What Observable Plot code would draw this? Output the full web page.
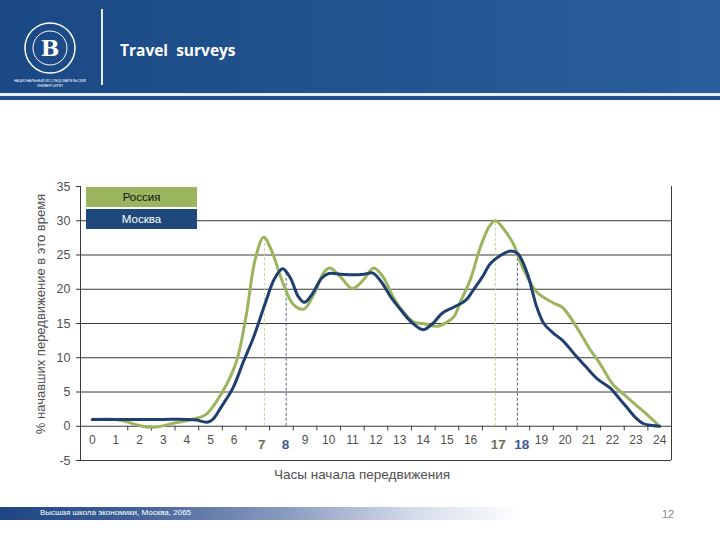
<!DOCTYPE html>
<html>
<head>
<meta charset="utf-8">
<script src="https://cdn.jsdelivr.net/npm/d3@7"></script>
<script src="https://cdn.jsdelivr.net/npm/@observablehq/plot@0.6"></script>
<style>
  html, body { margin: 0; padding: 0; background: #fff; }
  #page { position: relative; width: 720px; height: 540px; overflow: hidden; background: #fff; font-family: "Liberation Sans", Arial, sans-serif; }
  #header { position: absolute; left: 0; top: 0; width: 720px; height: 93px;
    background: linear-gradient(to right, #1b4986 0%, #21548f 50%, #2a5e9c 100%); }
  #hline { position: absolute; left: 0; top: 93px; width: 720px; height: 3px; background: #e8eef6; }
  #hstrip { position: absolute; left: 0; top: 96px; width: 720px; height: 4px; background: #1f4f8c; }
  #vsep { position: absolute; left: 101px; top: 9px; width: 2px; height: 76px; background: #e6edf7; }
  #title { position: absolute; left: 120px; top: 39px; color: #fff; font-family: "Open Sans", sans-serif; font-weight: 700; font-size: 15.5px; white-space: pre; }
  #logo { position: absolute; left: 14px; top: 8px; }
  #chart { position: absolute; left: 0; top: 170px; }
  .legend { position: absolute; left: 86px; width: 111px; height: 20px; font-size: 11.5px; text-align: center; line-height: 20px; }
  #ytitle { position: absolute; left: 40px; top: 314px; transform: translate(-50%, -50%) rotate(-90deg); white-space: nowrap; font-size: 13px; color: #505050; }
  #xtitle { position: absolute; left: 362px; top: 474px; transform: translate(-50%, -50%); white-space: nowrap; font-size: 13.5px; color: #505050; }
  #footer { position: absolute; left: 0; top: 507px; width: 520px; height: 13px;
    background: linear-gradient(to right, #1d4682 0%, #3f5f98 25%, #8a9bc0 55%, #d5dceb 80%, rgba(255,255,255,0) 100%); }
  #ftext { position: absolute; left: 40px; top: 508px; font-size: 8px; color: #fff; white-space: nowrap; }
  #pagenum { position: absolute; left: 662px; top: 508px; font-size: 11px; color: #888; }
</style>
</head>
<body>
<div id="page">
  <div id="header"></div>
  <div id="hline"></div>
  <div id="hstrip"></div>
  <svg id="logo" width="72" height="82" viewBox="0 0 72 82">
    <circle cx="36" cy="40" r="25" fill="none" stroke="#fff" stroke-width="1.5"/>
    <circle cx="36" cy="40" r="17" fill="none" stroke="#fff" stroke-width="1"/>
    <text x="36" y="48" text-anchor="middle" fill="#fff" font-family="DejaVu Serif, serif" font-weight="700" font-size="22">В</text>
    <text x="36" y="74" text-anchor="middle" fill="#fff" font-size="3.6" font-family="Liberation Sans, sans-serif">НАЦИОНАЛЬНЫЙ ИССЛЕДОВАТЕЛЬСКИЙ</text>
    <text x="36" y="79" text-anchor="middle" fill="#fff" font-size="3.6" font-family="Liberation Sans, sans-serif">УНИВЕРСИТЕТ</text>
  </svg>
  <div id="vsep"></div>
  <div id="title">Travel  surveys</div>
  <div id="chart"></div>
  <div class="legend" style="top:187px; background:#9bb55e; color:#111;">Россия</div>
  <div class="legend" style="top:209px; background:#1f497d; color:#fff;">Москва</div>
  <div id="ytitle">% начавших передвижение в это время</div>
  <div id="xtitle">Часы начала передвижения</div>
  <div id="footer"></div>
  <div id="ftext">Высшая школа экономики, Москва, 2065</div>
  <div id="pagenum">12</div>
</div>
<script>
// ---- data ----
const russiaHours  = [0, 1, 1.5, 2, 2.6, 3.4, 4.3, 4.8, 5.5, 6.1, 6.5, 6.9, 7.25, 7.6, 8.0, 8.5, 8.95, 9.4, 9.8, 10.05, 10.5, 11.0, 11.5, 11.9, 12.3, 12.7, 13.0, 13.6, 14.0, 14.6, 15.0, 15.3, 15.6, 16.0, 16.4, 16.8, 17.05, 17.4, 17.8, 18.2, 18.8, 19.5, 19.9, 20.5, 21.0, 21.5, 22.0, 22.5, 23.0, 23.5, 24];
const russiaValues = [1.0, 1.0, 0.6, 0.1, -0.15, 0.4, 1.1, 1.7, 5.0, 9.5, 16.0, 24.5, 27.6, 25.5, 21.5, 17.8, 17.1, 19.5, 22.5, 23.1, 21.8, 20.1, 21.5, 23.1, 21.8, 19.0, 17.4, 15.2, 15.0, 14.6, 15.2, 16.0, 18.4, 21.5, 26.0, 29.2, 30.0, 28.8, 26.7, 23.2, 19.6, 18.0, 17.3, 14.4, 11.5, 9.0, 6.2, 4.6, 3.1, 1.6, 0];
const moscowHours  = [0, 1, 2, 3, 4, 4.4, 4.85, 5.1, 5.45, 5.95, 6.4, 6.8, 7.3, 7.7, 8.05, 8.4, 8.7, 8.97, 9.3, 9.7, 10.0, 10.5, 11.0, 11.5, 11.85, 12.2, 12.6, 13.0, 13.5, 14.0, 14.4, 14.8, 15.3, 15.8, 16.1, 16.5, 16.85, 17.3, 17.7, 18.0, 18.4, 18.8, 19.1, 19.5, 19.9, 20.5, 20.9, 21.4, 21.9, 22.3, 22.6, 23.0, 23.3, 23.7, 24];
const moscowValues = [1.0, 1.0, 1.0, 1.0, 1.0, 0.9, 0.6, 1.0, 2.8, 5.6, 9.5, 12.8, 17.8, 21.5, 23.0, 21.5, 19.0, 18.1, 19.3, 21.6, 22.3, 22.2, 22.1, 22.2, 22.4, 21.2, 19.0, 17.2, 15.2, 14.1, 15.0, 16.5, 17.4, 18.4, 19.8, 21.8, 23.8, 25.0, 25.6, 25.2, 22.3, 17.4, 15.0, 13.6, 12.5, 10.1, 8.6, 6.8, 5.6, 4.0, 2.8, 1.2, 0.4, 0.1, 0];
const tickHours    = d3.range(0, 25);
const peakLabels   = [7, 8, 17, 18];
const peakSeries   = ["Россия", "Москва", "Россия", "Москва"];
const peakHours    = [7.28, 8.2, 17.05, 17.98];
const peakValues   = [27.6, 22.8, 30.0, 25.3];
const yTicks       = [-5, 0, 5, 10, 15, 20, 25, 30, 35];
const xDomain      = [-0.5, 24.5];
const yDomain      = [-5, 35];
const colors       = {"Россия": "#9bb55e", "Москва": "#1f3f70"};
const dashColors   = {"Россия": "#c8cf9e", "Москва": "#56627e"};
const labelColors  = {"Россия": "#6c7152", "Москва": "#3a5a8e"};

const russia = russiaHours.map((h, i) => ({h, v: russiaValues[i]}));
const moscow = moscowHours.map((h, i) => ({h, v: moscowValues[i]}));
const peaks = peakLabels.map((l, i) => ({label: l, s: peakSeries[i], h: peakHours[i], v: peakValues[i]}));
const plainLabels = tickHours.filter(h => !peakLabels.includes(h));
const betweenTicks = d3.range(1, 24).map(h => h + 0.5);
const grid = yTicks.filter(t => t > 0 && t < 35);

const chart = Plot.plot({
  width: 720,
  height: 300,
  marginTop: 16,
  marginBottom: 10,
  marginLeft: 80,
  marginRight: 49,
  style: {background: "transparent", fontFamily: "Liberation Sans, Arial, sans-serif", color: "#3a3a3a"},
  x: {domain: xDomain, axis: null},
  y: {domain: yDomain, axis: null},
  marks: [
    Plot.ruleY(grid, {stroke: "#3a3a3a", strokeWidth: 1}),
    Plot.ruleY([0], {stroke: "#3a3a3a", strokeWidth: 1}),
    Plot.ruleY([yDomain[0]], {stroke: "#3a3a3a", strokeWidth: 1}),
    Plot.ruleX([xDomain[0], xDomain[1]], {y1: yDomain[0], y2: yDomain[1], stroke: "#3a3a3a", strokeWidth: 1}),
    Plot.ruleX(betweenTicks, {y1: 0, y2: -0.7, stroke: "#3a3a3a"}),
    Plot.axisY({ticks: yTicks, tickSize: 4, tickPadding: 6, fontSize: 12.5, fill: "#505050", label: null, tickFormat: d => String(d)}),
    Plot.ruleX(peaks, {x: "h", y1: 0, y2: "v", stroke: d => dashColors[d.s], strokeDasharray: "3,2", strokeWidth: 1}),
    Plot.line(russia, {x: "h", y: "v", stroke: colors["Россия"], strokeWidth: 3, curve: "catmull-rom"}),
    Plot.line(moscow, {x: "h", y: "v", stroke: colors["Москва"], strokeWidth: 3, curve: "catmull-rom"}),
    Plot.text(plainLabels, {x: d => d, y: 0, text: d => String(d), dy: 14, fontSize: 12, fill: "#505050"}),
    Plot.text(peaks, {x: "label", y: 0, text: d => String(d.label), dy: 18, dx: 4, fontSize: 13.5, fontWeight: "bold", fill: d => labelColors[d.s]})
  ]
});
document.getElementById("chart").appendChild(chart);
</script>
</body>
</html>
